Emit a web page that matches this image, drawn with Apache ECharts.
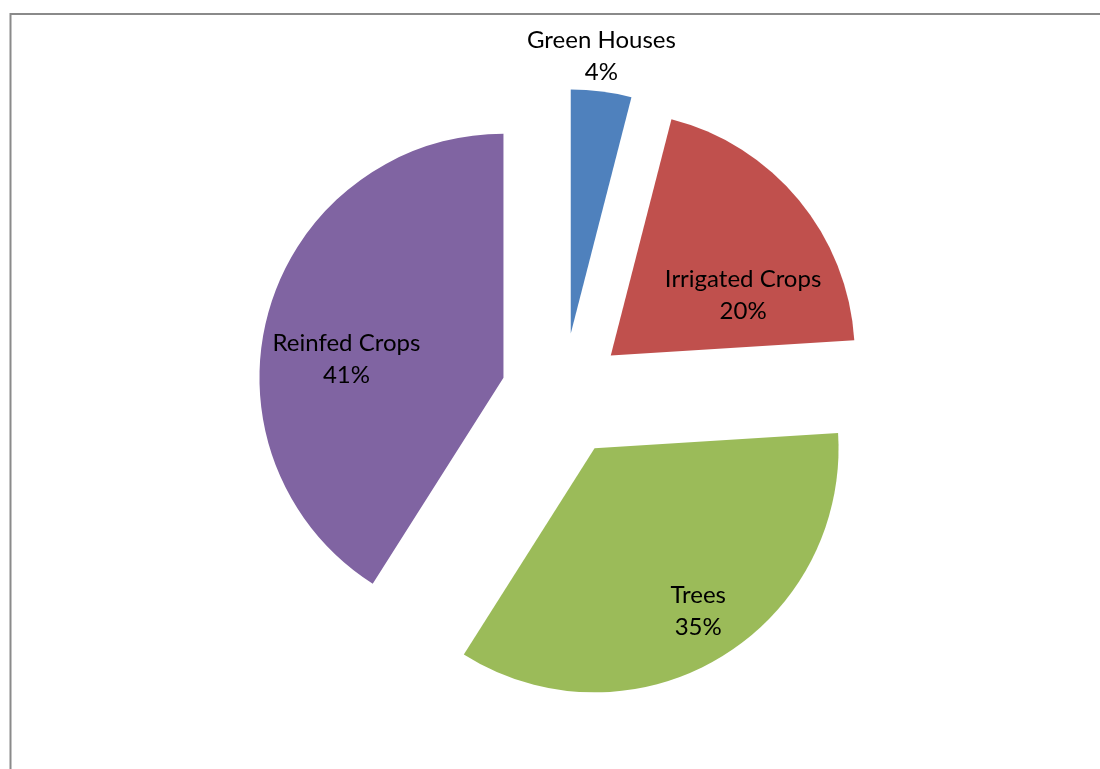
<!DOCTYPE html>
<html>
<head>
<meta charset="utf-8">
<title>Land use</title>
<script src="https://cdn.jsdelivr.net/npm/echarts@6/dist/echarts.min.js"></script>
<style>
  html, body { margin: 0; padding: 0; background: #fff; }
  #chart { width: 1100px; height: 769px; }
</style>
</head>
<body>
<div id="chart"></div>
<script>
// Share of land by use (percent)
const categories = ['Green Houses', 'Irrigated Crops', 'Trees', 'Reinfed Crops'];
const shares = [4, 20, 35, 41];
const colors = ['#4F81BD', '#C0504D', '#9BBB59', '#8064A2'];

// Label nudges from the default inside position, per slice
const labelNudge = [[15, -153], [36, 19], [40, 55], [-37, 16]];

const chart = echarts.init(document.getElementById('chart'), null, { renderer: 'canvas' });

chart.setOption({
  animation: false,
  backgroundColor: '#ffffff',
  graphic: [{
    type: 'polyline',
    silent: true,
    shape: { points: [[10.5, 780], [10.5, 14], [1110, 14]] },
    style: { stroke: '#8a8a8a', lineWidth: 2, fill: null }
  }],
  series: [{
    type: 'pie',
    center: [563, 395],
    radius: 244,
    startAngle: 90,
    clockwise: true,
    selectedMode: 'multiple',
    selectedOffset: 62,
    avoidLabelOverlap: false,
    emphasis: { disabled: true },
    itemStyle: { borderWidth: 0 },
    label: {
      show: true,
      position: 'inside',
      formatter: '{b}\n{d}%',
      fontFamily: 'Lato',
      fontSize: 24,
      lineHeight: 32,
      color: '#000',
      align: 'center'
    },
    labelLine: { show: false },
    labelLayout: function (p) {
      const n = labelNudge[p.dataIndex];
      return { dx: n[0], dy: n[1] };
    },
    data: categories.map((name, i) => ({
      name: name,
      value: shares[i],
      selected: true,
      itemStyle: { color: colors[i] }
    }))
  }]
});
</script>
</body>
</html>
